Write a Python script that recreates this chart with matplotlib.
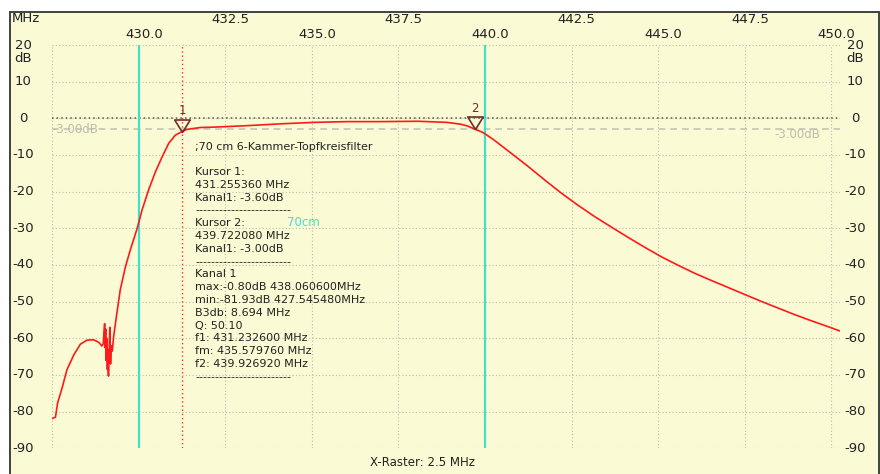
import numpy as np
import matplotlib
matplotlib.use("Agg")
import matplotlib.pyplot as plt
from matplotlib.patches import Rectangle
from matplotlib.path import Path

plt.rcParams['font.family'] = ['DejaVu Sans']

freq_mhz = [427.50, 427.60, 427.66, 427.79, 427.93, 428.13, 428.32, 428.51, 428.70, 428.85,
            428.94, 428.98, 429.00, 429.02, 429.03, 429.05, 429.06, 429.08, 429.10, 429.11,
            429.13, 429.15, 429.17, 429.19, 429.21, 429.24, 429.28, 429.36, 429.47, 429.62,
            429.76, 429.96, 430.10, 430.29, 430.49, 430.68, 430.87, 431.06, 431.255, 431.40,
            431.79, 432.18, 433.14, 434.10, 435.07, 436.03, 437.00, 438.06, 438.90, 439.30,
            439.50, 439.72, 439.95, 440.26, 440.74, 441.23, 441.71, 442.19, 442.67, 443.15,
            443.64, 444.12, 444.60, 445.08, 445.56, 446.04, 446.53, 447.01, 447.49, 447.97,
            448.45, 448.93, 449.42, 449.90, 450.25]
level_db = [-81.9, -81.5, -77.7, -73.6, -68.6, -64.5, -61.6, -60.5, -60.4, -61.1,
            -62.1, -61.5, -58.5, -56.0, -62.5, -57.5, -66.0, -60.0, -68.5, -63.0,
            -70.3, -64.0, -57.0, -67.0, -62.0, -63.5, -59.5, -54.0, -46.8, -40.5,
            -35.9, -30.0, -25.0, -19.5, -14.5, -10.5, -6.8, -4.6, -3.6, -3.0,
            -2.5, -2.4, -2.0, -1.5, -1.1, -0.9, -0.9, -0.8, -1.1, -1.6,
            -2.1, -3.0, -3.9, -5.9, -9.4, -13.0, -16.7, -20.3, -23.6, -26.7,
            -29.6, -32.4, -35.1, -37.7, -40.0, -42.2, -44.2, -46.1, -48.0, -49.9,
            -51.7, -53.5, -55.2, -56.8, -58.0]

cursor_freq = [431.255360, 439.722080]
cursor_db = [-3.60, -3.00]
cursor_names = ["1", "2"]
band_edges = [430.0, 440.0]

x_ticks_low = [430.0, 435.0, 440.0, 445.0, 450.0]
x_ticks_high = [432.5, 437.5, 442.5, 447.5]
y_ticks = [20, 10, 0, -10, -20, -30, -40, -50, -60, -70, -80, -90]

title_line = ";70 cm 6-Kammer-Topfkreisfilter"
sep = "------------------------"
info_lines = ["Kursor 1:", "431.255360 MHz", "Kanal1: -3.60dB", sep,
              "Kursor 2:", "439.722080 MHz", "Kanal1: -3.00dB", sep,
              "Kanal 1", "max:-0.80dB 438.060600MHz", "min:-81.93dB 427.545480MHz",
              "B3db: 8.694 MHz", "Q: 50.10", "f1: 431.232600 MHz", "fm: 435.579760 MHz",
              "f2: 439.926920 MHz", sep]

W, H = 880, 474
bg = '#fafad4'
txt = '#222222'

fig = plt.figure(figsize=(W / 100, H / 100), dpi=100, facecolor='white')
fig.add_artist(Rectangle((10 / W, -0.05), 869 / W, 1.05 - 12 / H, transform=fig.transFigure,
                         facecolor=bg, edgecolor='#333333', lw=1.3, zorder=0))

def fx(px):
    return px / W

def fy(py):
    return (H - py) / H

ax = fig.add_axes([fx(52), fy(448.3), (840 - 52) / W, (448.3 - 45) / H])
ax.set_facecolor('none')
ax.set_xlim(427.5, 450.25)
ax.set_ylim(-90, 20)
for s in ax.spines.values():
    s.set_visible(False)
ax.set_xticks(np.arange(427.5, 450.01, 2.5))
ax.set_yticks(y_ticks)
ax.tick_params(length=0, labelbottom=False, labelleft=False)
ax.grid(True, color='#bdbdb0', lw=0.8, dashes=(1, 2))

# reference lines
ax.axhline(0, color='#555555', lw=1.1, dashes=(1, 2), zorder=2)
ax.axhline(-3, color='#c4c4b4', lw=1.2, dashes=(4, 3), zorder=2)
for f in band_edges:
    ax.axvline(f, color='#40e0cc', lw=1.6, zorder=3)
ax.axvline(cursor_freq[0], color='#ff3030', lw=1.0, dashes=(1, 2), zorder=3)

ax.plot(freq_mhz, level_db, color='#ff1a1a', lw=1.2, zorder=4)

# cursor triangles, apex on the curve
tri = Path([(-0.62, 1.0), (0.62, 1.0), (0.0, 0.0), (-0.62, 1.0)],
           [Path.MOVETO, Path.LINETO, Path.LINETO, Path.CLOSEPOLY])
for f, d, n in zip(cursor_freq, cursor_db, cursor_names):
    ax.plot([f], [d], marker=tri, ms=18, mfc='none', mec='#7a2a2a', mew=1.2, zorder=5)
    ax.annotate(n, (f, d), xytext=(0, 10.5), textcoords='offset points', ha='center',
                va='bottom', fontsize=8.5, color='#7a2a2a')

ax.text(427.5, -3, "-3.00dB", color='#bdbdb0', fontsize=8.5, ha='left', va='center')
ax.text(449.67, -4.3, "-3.00dB", color='#bdbdb0', fontsize=8.5, ha='right', va='center')

# axis labels drawn like the analyser screen
for v in x_ticks_low:
    ax.text(v + 0.15, 1.027, f"{v:.1f}", transform=ax.get_xaxis_transform(),
            ha='center', va='center', fontsize=9.5, color=txt)
for v in x_ticks_high:
    ax.text(v + 0.15, 1.062, f"{v:.1f}", transform=ax.get_xaxis_transform(),
            ha='center', va='center', fontsize=9.5, color=txt)
for v in y_ticks:
    ax.text(-0.0368, v, f"{v}", transform=ax.get_yaxis_transform(),
            ha='center', va='center', fontsize=9.5, color=txt)
    ax.text(1.019, v, f"{v}", transform=ax.get_yaxis_transform(),
            ha='center', va='center', fontsize=9.5, color=txt)
fig.text(fx(23), fy(59), "dB", ha='center', va='center', fontsize=9.5, color=txt)
fig.text(fx(855), fy(59), "dB", ha='center', va='center', fontsize=9.5, color=txt)
fig.text(fx(12), fy(19), "MHz", ha='left', va='center', fontsize=9.5, color=txt)

fig.text(fx(195), fy(146.5), title_line, ha='left', va='center', fontsize=8, color=txt)
for i, line in enumerate(info_lines):
    fig.text(fx(195), fy(172 + i * 12.8), line, ha='left', va='center', fontsize=8, color=txt)
fig.text(fx(287), fy(223), "70cm", ha='left', va='center', fontsize=8.5, color='#40e0cc')
fig.text(fx(422), fy(462), "X-Raster: 2.5 MHz", ha='center', va='center', fontsize=8.5, color=txt)

fig.savefig("out.png", dpi=100, facecolor='white')
